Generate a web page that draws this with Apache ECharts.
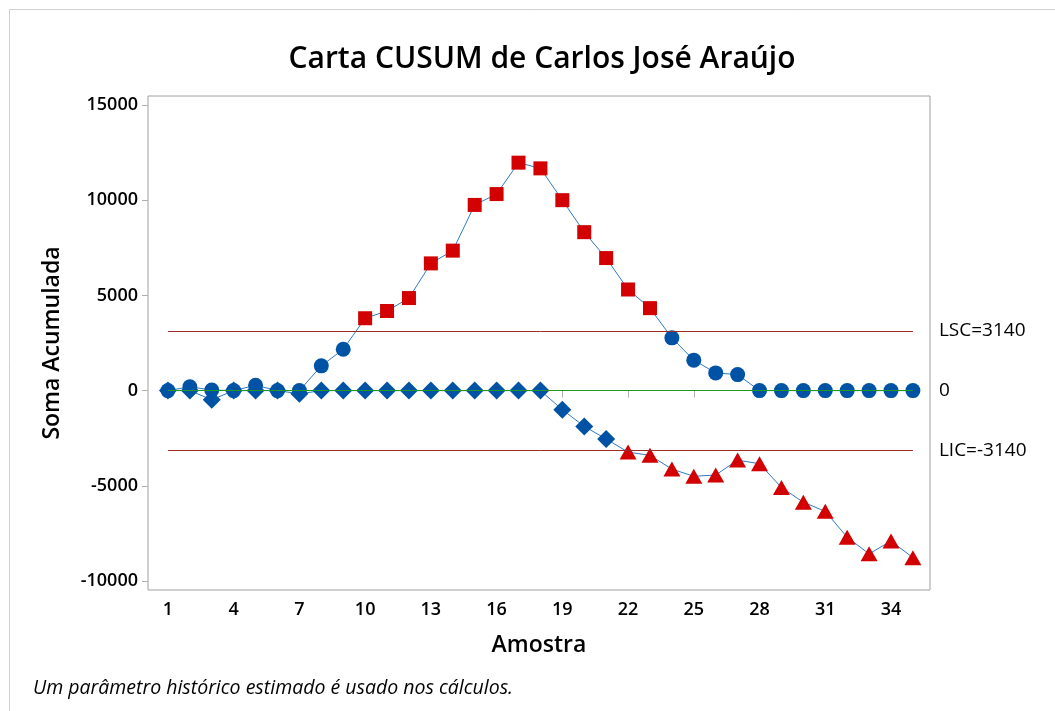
<!DOCTYPE html>
<html>
<head>
<meta charset="utf-8">
<script src="https://cdn.jsdelivr.net/npm/echarts@6/dist/echarts.min.js"></script>
<style>
  html, body { margin: 0; padding: 0; background: #fff; }
  #chart { width: 1055px; height: 711px; }
</style>
</head>
<body>
<div id="chart"></div>
<script>
// amostras 1..35
var samples = [1, 2, 3, 4, 5, 6, 7, 8, 9, 10, 11, 12, 13, 14, 15, 16, 17, 18,
  19, 20, 21, 22, 23, 24, 25, 26, 27, 28, 29, 30, 31, 32, 33, 34, 35]
// CUSUM superior
var upper = [0, 200, 30, 0, 280, 0, 0, 1300, 2170, 3800, 4180, 4860, 6680, 7350,
  9750, 10320, 11970, 11670, 10000, 8320, 6960, 5310, 4330, 2770, 1600, 930, 840,
  0, 0, 0, 0, 0, 0, 0, 0]
// CUSUM inferior
var lower = [0, 0, -480, 0, 0, 0, -170, 0, 0, 0, 0, 0, 0, 0, 0, 0, 0, 0,
  -1000, -1880, -2540, -3230, -3400, -4120, -4500, -4430, -3650, -3840, -5090,
  -5860, -6340, -7700, -8570, -7900, -8770]
var UCL = 3140
var LCL = -3140
var xTicks = [1, 4, 7, 10, 13, 16, 19, 22, 25, 28, 31, 34]
var yTicks = [-10000, -5000, 0, 5000, 10000, 15000]

var BLUE = '#0053a4'
var RED = '#d20000'
var FONT = 'Open Sans'

function points(vals, isOut, normalSym, outSym, normalSize, outSize) {
  return vals.map(function (v, i) {
    var out = isOut(v)
    return {
      value: [samples[i], v],
      symbol: out ? outSym : normalSym,
      symbolSize: out ? outSize : normalSize,
      itemStyle: { color: out ? RED : BLUE }
    }
  })
}

var chart = echarts.init(document.getElementById('chart'))
chart.setOption({
  animation: false,
  textStyle: { fontFamily: FONT },
  title: {
    text: 'Carta CUSUM de Carlos José Araújo',
    left: 537,
    top: 39,
    textAlign: 'center',
    textStyle: { fontFamily: FONT, fontSize: 30, fontWeight: 600, color: '#000' }
  },
  graphic: [
    {
      type: 'rect', left: 7, top: 7, silent: true, z: -10,
      shape: { width: 1100, height: 800 },
      style: { fill: 'none', stroke: '#d0d0d0', lineWidth: 1 }
    },
    {
      type: 'text', left: 33, top: 678,
      style: {
        text: 'Um parâmetro histórico estimado é usado nos cálculos.',
        font: 'italic 19.5px "Open Sans"', fill: '#000'
      }
    }
  ],
  grid: {
    left: 148, right: 125, top: 96, bottom: 121,
    show: true, borderColor: '#a0a0a0', borderWidth: 1
  },
  xAxis: {
    type: 'value',
    min: 0.09,
    max: 35.78,
    name: 'Amostra',
    nameLocation: 'middle',
    nameGap: 44,
    nameTextStyle: { fontSize: 23, fontWeight: 600, color: '#000' },
    axisLine: { show: false },
    axisTick: { show: true, customValues: xTicks, length: 7, lineStyle: { color: '#b0b0b0' } },
    axisLabel: { customValues: xTicks, fontSize: 18, fontWeight: 600, color: '#000', margin: 11 },
    splitLine: { show: false }
  },
  yAxis: {
    type: 'value',
    min: -10470,
    max: 15470,
    name: 'Soma Acumulada',
    nameLocation: 'middle',
    nameRotate: 90,
    nameGap: 84,
    nameTextStyle: { fontSize: 23, fontWeight: 600, color: '#000' },
    axisLine: { show: false },
    axisTick: { show: true, customValues: yTicks, length: 6, lineStyle: { color: '#b0b0b0' } },
    axisLabel: {
      customValues: yTicks, fontSize: 18, fontWeight: 600, color: '#000', margin: 10,
      formatter: function (v) { return String(v) }
    },
    splitLine: { show: false }
  },
  series: [
    {
      // linhas de controle
      type: 'line',
      data: [],
      z: 1,
      markLine: {
        silent: true,
        symbol: 'none',
        animation: false,
        label: {
          position: 'end', distance: 26, fontSize: 19, color: '#000', fontFamily: FONT
        },
        data: [
          [{ coord: [1, UCL], lineStyle: { color: '#9e2a2a', width: 1, type: 'solid' },
             label: { formatter: 'LSC=' + UCL } }, { coord: [35, UCL] }],
          [{ coord: [1, 0], lineStyle: { color: '#1e9a1e', width: 1, type: 'solid' },
             label: { formatter: '0' } }, { coord: [35, 0] }],
          [{ coord: [1, LCL], lineStyle: { color: '#9e2a2a', width: 1, type: 'solid' },
             label: { formatter: 'LIC=' + LCL } }, { coord: [35, LCL] }]
        ]
      }
    },
    {
      name: 'Superior',
      type: 'line',
      z: 3,
      lineStyle: { color: '#2f78c4', width: 1 },
      data: points(upper, function (v) { return v > UCL }, 'circle', 'rect', 15, 14)
    },
    {
      name: 'Inferior',
      type: 'line',
      z: 2,
      lineStyle: { color: '#2f78c4', width: 1 },
      data: points(lower, function (v) { return v < LCL }, 'diamond', 'triangle', 18, [17, 15])
    }
  ]
})
window.addEventListener('resize', function () {
  chart.resize()
})
</script>
</body>
</html>
